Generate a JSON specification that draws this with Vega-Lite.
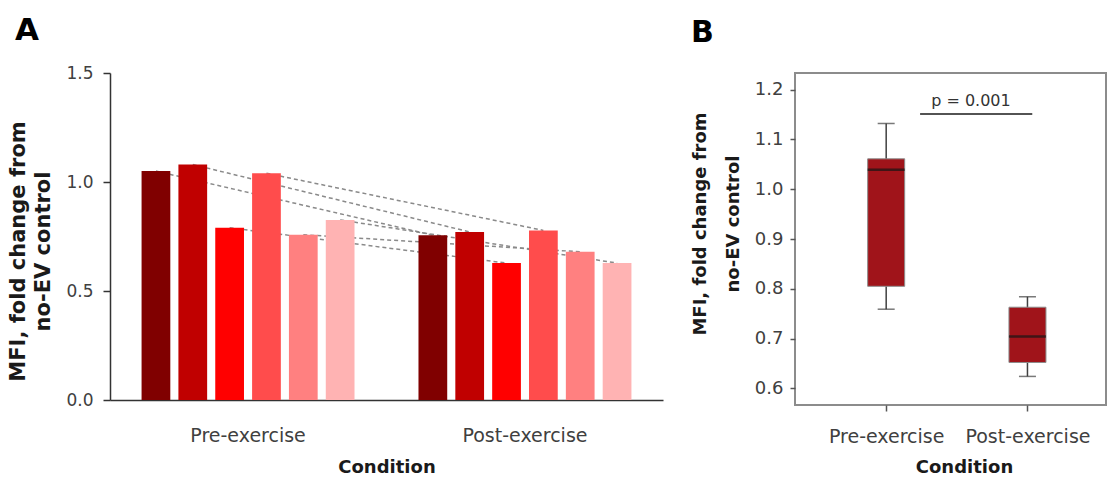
{
  "$schema": "https://vega.github.io/schema/vega-lite/v6.json",
  "padding": {"left": 7, "top": 14, "right": 1, "bottom": 3},
  "background": "white",
  "config": {
    "font": "DejaVu Sans",
    "view": {"stroke": null},
    "axis": {"grid": false, "labelColor": "#404040", "titleColor": "#1a1a1a", "labelFont": "DejaVu Sans", "titleFont": "DejaVu Sans"},
    "title": {"font": "DejaVu Sans"}
  },
  "datasets": {
    "bars": [
      {"condition": "Pre-exercise", "donor": "D1", "value": 1.05},
      {"condition": "Pre-exercise", "donor": "D2", "value": 1.08},
      {"condition": "Pre-exercise", "donor": "D3", "value": 0.79},
      {"condition": "Pre-exercise", "donor": "D4", "value": 1.04},
      {"condition": "Pre-exercise", "donor": "D5", "value": 0.758},
      {"condition": "Pre-exercise", "donor": "D6", "value": 0.826},
      {"condition": "Post-exercise", "donor": "D1", "value": 0.756},
      {"condition": "Post-exercise", "donor": "D2", "value": 0.771},
      {"condition": "Post-exercise", "donor": "D3", "value": 0.628},
      {"condition": "Post-exercise", "donor": "D4", "value": 0.778},
      {"condition": "Post-exercise", "donor": "D5", "value": 0.68},
      {"condition": "Post-exercise", "donor": "D6", "value": 0.628}
    ],
    "box": [
      {"pos": 1, "condition": "Pre-exercise", "lower": 0.759, "q1": 0.805, "median": 1.039, "q3": 1.061, "upper": 1.132},
      {"pos": 2, "condition": "Post-exercise", "lower": 0.624, "q1": 0.652, "median": 0.704, "q3": 0.763, "upper": 0.784}
    ],
    "sig": [
      {"start": 1.24, "end": 2.034, "y": 1.151, "label": "p = 0.001", "xt": 1.6, "yt": 1.1765}
    ]
  },
  "bounds": "flush",
  "spacing": 132,
  "hconcat": [
    {
      "title": {"text": "A", "anchor": "start", "frame": "group", "fontSize": 31, "fontWeight": "bold", "color": "#000000", "dx": -95, "offset": 17.5},
      "width": 553,
      "height": 327,
      "data": {"name": "bars"},
      "encoding": {
        "x": {
          "field": "condition", "type": "nominal", "sort": ["Pre-exercise", "Post-exercise"],
          "scale": {"paddingInner": 0.231, "paddingOuter": 0.114},
          "axis": {"title": "Condition", "labelAngle": 0, "ticks": false, "tickSize": 0, "labelPadding": 26, "labelFontSize": 19, "titleFontSize": 18, "titleFontWeight": "bold", "titlePadding": 13, "domainColor": "#333333", "domainWidth": 1.5}
        },
        "xOffset": {"field": "donor", "type": "nominal", "scale": {"paddingInner": 0.22, "paddingOuter": 0}},
        "y": {
          "field": "value", "type": "quantitative",
          "scale": {"domain": [0, 1.5], "nice": false},
          "axis": {"values": [0, 0.5, 1, 1.5], "format": ".1f", "title": ["MFI, fold change from", "no-EV control"], "titleFontSize": 21, "titleFontWeight": "bold", "titleLineHeight": 25, "titlePadding": 12, "titleY": 178, "labelFontSize": 17, "labelPadding": 10, "tickSize": 7, "tickColor": "#333333", "tickWidth": 1.5, "domainColor": "#333333", "domainWidth": 1.5}
        }
      },
      "layer": [
        {"mark": {"type": "line", "color": "#8a8a8a", "strokeDash": [4, 3], "strokeWidth": 1.5}, "encoding": {"detail": {"field": "donor"}}},
        {"mark": {"type": "bar"}, "encoding": {"color": {"field": "donor", "type": "nominal", "scale": {"domain": ["D1", "D2", "D3", "D4", "D5", "D6"], "range": ["#800000", "#C00000", "#FF0000", "#FF4C4C", "#FF8080", "#FFB3B3"]}, "legend": null}}}
      ]
    },
    {
      "title": {"text": "B", "anchor": "start", "frame": "group", "fontSize": 30, "fontWeight": "bold", "color": "#000000", "dx": -104, "offset": 25.5},
      "width": 311,
      "height": 332,
      "view": {"stroke": "#8c8c8c", "strokeWidth": 2},
      "layer": [
        {
          "data": {"name": "box"},
          "mark": {"type": "rule", "color": "#404040", "strokeWidth": 1.5},
          "encoding": {
            "x": {"field": "pos", "type": "quantitative", "scale": {"domain": [0.39, 2.5205], "nice": false, "zero": false},
              "axis": {"values": [1, 2], "labelExpr": "datum.value == 1 ? 'Pre-exercise' : 'Post-exercise'", "labelFlush": false, "title": "Condition", "titleFontSize": 18, "titleFontWeight": "bold", "titleX": 169, "titlePadding": 12, "labelFontSize": 19, "labelPadding": 16, "tickSize": 6, "tickColor": "#555555", "tickWidth": 1.5, "domain": false}},
            "y": {"field": "lower", "type": "quantitative", "scale": {"domain": [0.5666, 1.2334], "nice": false, "zero": false},
              "axis": {"values": [0.6, 0.7, 0.8, 0.9, 1.0, 1.1, 1.2], "format": ".1f", "title": ["MFI, fold change from", "no-EV control"], "titleFontSize": 18, "titleFontWeight": "bold", "titleLineHeight": 33, "titlePadding": 12, "titleY": 150.5, "labelFontSize": 18, "labelPadding": 7, "tickSize": 5, "tickColor": "#555555", "tickWidth": 1.5, "domain": false}},
            "y2": {"field": "upper"}
          }
        },
        {
          "data": {"name": "box"},
          "mark": {"type": "tick", "orient": "horizontal", "size": 17, "thickness": 1.5, "color": "#404040"},
          "encoding": {"x": {"field": "pos", "type": "quantitative"}, "y": {"field": "lower", "type": "quantitative"}}
        },
        {
          "data": {"name": "box"},
          "mark": {"type": "tick", "orient": "horizontal", "size": 17, "thickness": 1.5, "color": "#404040"},
          "encoding": {"x": {"field": "pos", "type": "quantitative"}, "y": {"field": "upper", "type": "quantitative"}}
        },
        {
          "data": {"name": "box"},
          "mark": {"type": "bar", "size": 37, "fill": "#A0141A", "stroke": "#8c8c8c", "strokeWidth": 1},
          "encoding": {"x": {"field": "pos", "type": "quantitative"}, "y": {"field": "q1", "type": "quantitative"}, "y2": {"field": "q3"}}
        },
        {
          "data": {"name": "box"},
          "mark": {"type": "tick", "orient": "horizontal", "size": 37, "thickness": 2.5, "color": "#151515"},
          "encoding": {"x": {"field": "pos", "type": "quantitative"}, "y": {"field": "median", "type": "quantitative"}}
        },
        {
          "data": {"name": "sig"},
          "mark": {"type": "rule", "color": "#1a1a1a", "strokeWidth": 1.5},
          "encoding": {"x": {"field": "start", "type": "quantitative"}, "x2": {"field": "end"}, "y": {"field": "y", "type": "quantitative"}}
        },
        {
          "data": {"name": "sig"},
          "mark": {"type": "text", "fontSize": 16, "color": "#333333", "baseline": "middle"},
          "encoding": {"x": {"field": "xt", "type": "quantitative"}, "y": {"field": "yt", "type": "quantitative"}, "text": {"field": "label"}}
        }
      ]
    }
  ]
}
